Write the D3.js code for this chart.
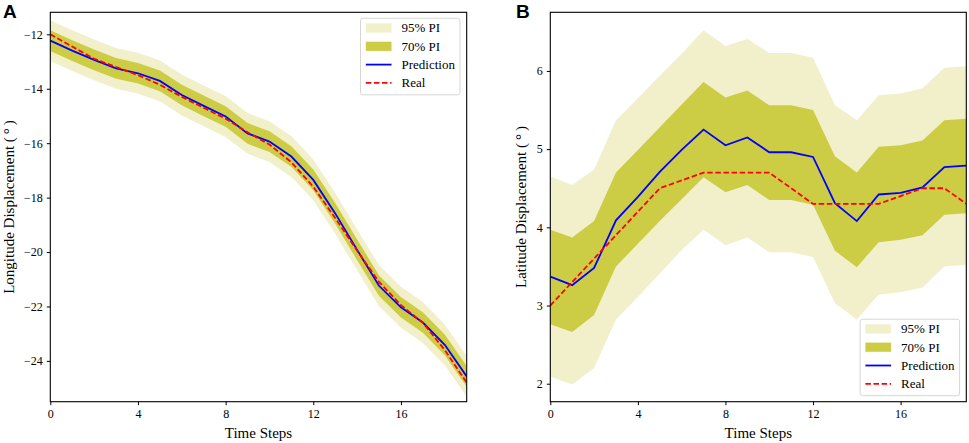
<!DOCTYPE html>
<html lang="en">
<head>
<meta charset="utf-8">
<title>Prediction intervals</title>
<script src="https://d3js.org/d3.v7.min.js"></script>
<style>
    body, html { margin: 0; padding: 0; background: #fff; overflow: hidden; }
    text { font-family: "Liberation Serif", "Times New Roman", serif; fill: #000; }
    .tick text { font-size: 12px; }
    .axlabel { font-size: 15px; }
    .legend text { font-size: 13px; }
    .panel-letter { font-family: "Liberation Sans", Arial, sans-serif; font-weight: bold; font-size: 19px; }
</style>
</head>
<body>
<svg id="chart" width="969" height="443"></svg>
<script>
// time steps
var steps = d3.range(0, 20);

// panel A - longitude displacement
var lonPred  = [-12.23, -12.6, -12.94, -13.25, -13.43, -13.71, -14.23, -14.63, -15.02, -15.64, -15.94, -16.49, -17.35, -18.58, -19.92, -21.24, -22.03, -22.59, -23.41, -24.57];
var lonReal  = [-12.0, -12.45, -12.9, -13.2, -13.5, -13.85, -14.3, -14.7, -15.1, -15.6, -16.05, -16.7, -17.6, -18.75, -19.95, -21.1, -21.95, -22.6, -23.6, -24.8];
var lonUp70  = [-11.85, -12.22, -12.56, -12.87, -13.05, -13.33, -13.85, -14.25, -14.64, -15.26, -15.56, -16.11, -16.97, -18.2, -19.54, -20.86, -21.65, -22.21, -23.03, -24.19];
var lonLo70  = [-12.61, -12.98, -13.32, -13.63, -13.81, -14.09, -14.61, -15.01, -15.4, -16.02, -16.32, -16.87, -17.73, -18.96, -20.3, -21.62, -22.41, -22.97, -23.79, -24.95];
var lonUp95  = [-11.48, -11.85, -12.19, -12.5, -12.68, -12.96, -13.48, -13.88, -14.27, -14.89, -15.19, -15.74, -16.6, -17.83, -19.17, -20.49, -21.28, -21.84, -22.66, -23.82];
var lonLo95  = [-12.98, -13.35, -13.69, -14.0, -14.18, -14.46, -14.98, -15.38, -15.77, -16.39, -16.69, -17.24, -18.1, -19.33, -20.67, -21.99, -22.78, -23.34, -24.16, -25.32];

// panel B - latitude displacement
var latPred  = [3.37, 3.26, 3.48, 4.09, 4.39, 4.71, 4.99, 5.25, 5.05, 5.15, 4.96, 4.96, 4.9, 4.31, 4.08, 4.42, 4.44, 4.51, 4.77, 4.79];
var latReal  = [3.0, 3.3, 3.6, 3.9, 4.2, 4.5, 4.6, 4.7, 4.7, 4.7, 4.7, 4.5, 4.3, 4.3, 4.3, 4.3, 4.4, 4.5, 4.5, 4.3];
var latUp70  = [3.97, 3.87, 4.08, 4.7, 4.99, 5.28, 5.57, 5.86, 5.66, 5.75, 5.56, 5.56, 5.5, 4.91, 4.7, 5.03, 5.05, 5.11, 5.37, 5.39];
var latLo70  = [2.76, 2.66, 2.88, 3.5, 3.79, 4.08, 4.36, 4.64, 4.45, 4.54, 4.35, 4.35, 4.29, 3.7, 3.49, 3.81, 3.84, 3.9, 4.16, 4.18];
var latUp95  = [4.65, 4.54, 4.74, 5.37, 5.65, 5.94, 6.22, 6.52, 6.32, 6.41, 6.23, 6.23, 6.17, 5.56, 5.37, 5.69, 5.71, 5.78, 6.04, 6.06];
var latLo95  = [2.09, 1.99, 2.2, 2.82, 3.11, 3.41, 3.71, 3.97, 3.77, 3.87, 3.68, 3.68, 3.62, 3.03, 2.82, 3.14, 3.17, 3.23, 3.5, 3.52];

// tick labels
var xTicks = [0, 4, 8, 12, 16];
var lonTicks = [-24, -22, -20, -18, -16, -14, -12];
var latTicks = [2, 3, 4, 5, 6];
var legendLabels = ["95% PI", "70% PI", "Prediction", "Real"];

var colors = { pi95: "#f1f0cb", pi70: "#cdcc45", pred: "#0000ff", real: "#ff0000" };

var svg = d3.select("#chart");

function drawPanel(cfg) {
    var x = d3.scaleLinear().domain([0, 19]).range([cfg.left, cfg.right]);
    var y = d3.scaleLinear().domain(cfg.yDomain).range([cfg.bottom, cfg.top]);
    var g = svg.append("g");

    g.append("clipPath").attr("id", cfg.id + "-clip")
        .append("rect")
        .attr("x", cfg.left).attr("y", cfg.top)
        .attr("width", cfg.right - cfg.left).attr("height", cfg.bottom - cfg.top);

    var plot = g.append("g").attr("clip-path", "url(#" + cfg.id + "-clip)");

    function band(up, lo) {
        return d3.area()
            .x(function (d) { return x(d); })
            .y0(function (d) { return y(lo[d]); })
            .y1(function (d) { return y(up[d]); })(steps);
    }
    function line(vals) {
        return d3.line()
            .x(function (d) { return x(d); })
            .y(function (d) { return y(vals[d]); })(steps);
    }

    plot.append("path").attr("d", band(cfg.up95, cfg.lo95)).attr("fill", colors.pi95);
    plot.append("path").attr("d", band(cfg.up70, cfg.lo70)).attr("fill", colors.pi70);
    plot.append("path").attr("d", line(cfg.pred))
        .attr("fill", "none").attr("stroke", colors.pred).attr("stroke-width", 1.8);
    plot.append("path").attr("d", line(cfg.real))
        .attr("fill", "none").attr("stroke", colors.real).attr("stroke-width", 1.8)
        .attr("stroke-dasharray", "5.5,2.6");

    // axes
    var xAxis = d3.axisBottom(x).tickValues(xTicks).tickSize(3.5).tickPadding(4).tickFormat(d3.format("d"));
    var yAxis = d3.axisLeft(y).tickValues(cfg.yTicks).tickSize(3.5).tickPadding(4).tickFormat(d3.format("d"));
    g.append("g").attr("transform", "translate(0," + cfg.bottom + ")").call(xAxis)
        .call(function (s) { s.select(".domain").remove(); s.selectAll("text").attr("font-family", null).attr("font-size", null); });
    g.append("g").attr("transform", "translate(" + cfg.left + ",0)").call(yAxis)
        .call(function (s) { s.select(".domain").remove(); s.selectAll("text").attr("font-family", null).attr("font-size", null); });

    // frame
    g.append("rect")
        .attr("x", cfg.left).attr("y", cfg.top)
        .attr("width", cfg.right - cfg.left).attr("height", cfg.bottom - cfg.top)
        .attr("fill", "none").attr("stroke", "#000").attr("stroke-width", 1.1);

    // axis labels
    g.append("text").attr("class", "axlabel")
        .attr("x", (cfg.left + cfg.right) / 2).attr("y", 438)
        .attr("text-anchor", "middle").text("Time Steps");
    g.append("text").attr("class", "axlabel")
        .attr("transform", "translate(" + cfg.yLabelX + "," + (cfg.top + cfg.bottom) / 2 + ") rotate(-90)")
        .attr("text-anchor", "middle").text(cfg.yLabel);

    g.append("text").attr("class", "panel-letter")
        .attr("x", cfg.letterX).attr("y", 18).text(cfg.letter);

    // legend
    var lw = 99.5, lh = 76.5;
    var lx = cfg.right - 6.7 - lw;
    var ly = cfg.legendTop ? cfg.top + 6 : cfg.bottom - 6 - lh;
    var leg = g.append("g").attr("class", "legend").attr("transform", "translate(" + lx + "," + ly + ")");
    leg.append("rect").attr("width", lw).attr("height", lh).attr("rx", 2.5)
        .attr("fill", "#fff").attr("fill-opacity", 0.8).attr("stroke", "#d6d6d6").attr("stroke-width", 1);
    legendLabels.forEach(function (lab, i) {
        var ry = 9.7 + i * 18.3;
        if (i < 2) {
            leg.append("rect").attr("x", 5.3).attr("y", ry - 4.6).attr("width", 25.7).attr("height", 9.2)
                .attr("fill", i === 0 ? colors.pi95 : colors.pi70);
        } else {
            leg.append("line").attr("x1", 5.3).attr("x2", 31).attr("y1", ry).attr("y2", ry)
                .attr("stroke", i === 2 ? colors.pred : colors.real).attr("stroke-width", 1.8)
                .attr("stroke-dasharray", i === 3 ? "5.5,2.6" : null);
        }
        leg.append("text").attr("x", 41).attr("y", ry + 4.5).text(lab);
    });
}

drawPanel({
    id: "a", letter: "A", letterX: 3,
    left: 50.3, right: 466.7, top: 12.3, bottom: 401.7,
    yDomain: [-25.5, -11.19], yTicks: lonTicks,
    yLabel: "Longitude Displacement (\u2009\u00b0\u2009)", yLabelX: 14,
    pred: lonPred, real: lonReal, up70: lonUp70, lo70: lonLo70, up95: lonUp95, lo95: lonLo95,
    legendTop: true
});

drawPanel({
    id: "b", letter: "B", letterX: 516,
    left: 550.3, right: 966.3, top: 12.3, bottom: 401.7,
    yDomain: [1.77, 6.75], yTicks: latTicks,
    yLabel: "Latitude Displacement (\u2009\u00b0\u2009)", yLabelX: 526,
    pred: latPred, real: latReal, up70: latUp70, lo70: latLo70, up95: latUp95, lo95: latLo95,
    legendTop: false
});
</script>
</body>
</html>
